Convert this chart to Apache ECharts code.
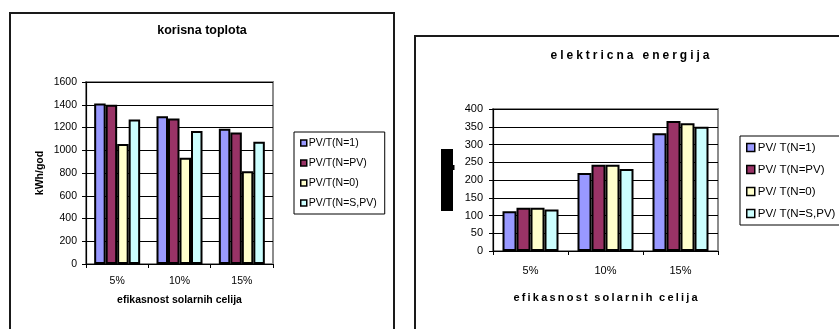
<!DOCTYPE html>
<html>
<head>
<meta charset="utf-8">
<script src="https://cdn.jsdelivr.net/npm/echarts@6/dist/echarts.min.js"></script>
<style>
  html, body { margin: 0; padding: 0; background: #fff; }
  #chart { width: 839px; height: 329px; }
</style>
</head>
<body>
<div id="chart"></div>
<script>
// Categories: solar cell efficiency
const categories = ['5%', '10%', '15%'];

// Useful heat (kWh/god) per PV/T configuration
const heatNames = ['PV/T(N=1)', 'PV/T(N=PV)', 'PV/T(N=0)', 'PV/T(N=S,PV)'];
const heatN1   = [1410, 1300, 1190];
const heatNPV  = [1400, 1280, 1155];
const heatN0   = [1055, 935, 815];
const heatNSPV = [1270, 1170, 1075];

// Electric energy per PV/T configuration
const elecNames = ['PV/ T(N=1)', 'PV/ T(N=PV)', 'PV/ T(N=0)', 'PV/ T(N=S,PV)'];
const elecN1   = [112, 220, 332];
const elecNPV  = [122, 243, 366];
const elecN0   = [122, 243, 360];
const elecNSPV = [117, 231, 350];

// Axis ticks
const heatTicks = { min: 0, max: 1600, interval: 200 };
const elecTicks = { min: 0, max: 400, interval: 50 };

const palette = ['#9999FF', '#993366', '#FFFFCC', '#CCFFFF'];
const FONT = '"Liberation Sans", Arial, sans-serif';

// letter-spaced caption text
function spaced(s, gap) {
  return s.split(' ').map(w => w.split('').join(gap)).join(gap + gap + gap);
}

const chart = echarts.init(document.getElementById('chart'), null, { renderer: 'canvas' });

function barSeries(name, data, idx, gridIdx, width) {
  return {
    type: 'bar',
    name: name,
    data: data,
    xAxisIndex: gridIdx,
    yAxisIndex: gridIdx,
    barWidth: width,
    barGap: '0%',
    itemStyle: { color: palette[idx], borderColor: '#000', borderWidth: 2 },
    emphasis: { disabled: true },
    animation: false
  };
}

const plain = v => String(v);

const option = {
  animation: false,
  backgroundColor: '#fff',
  textStyle: { fontFamily: FONT },
  grid: [
    { left: 86, top: 82, width: 187, height: 182, show: true, borderColor: '#8c8c8c', borderWidth: 2, backgroundColor: 'transparent' },
    { left: 493, top: 109, width: 225, height: 142, show: true, borderColor: '#8c8c8c', borderWidth: 2, backgroundColor: 'transparent' }
  ],
  xAxis: [
    {
      type: 'category', gridIndex: 0, data: categories,
      axisLine: { lineStyle: { color: '#000', width: 1.2 } },
      axisTick: { show: true, length: 4, lineStyle: { color: '#000' } },
      axisLabel: { color: '#000', fontSize: 10.5, margin: 12, fontFamily: FONT },
      name: 'efikasnost solarnih celija', nameLocation: 'middle', nameGap: 31,
      nameTextStyle: { color: '#000', fontSize: 10.5, fontWeight: 'bold', fontFamily: FONT }
    },
    {
      type: 'category', gridIndex: 1, data: categories,
      axisLine: { lineStyle: { color: '#000', width: 1.2 } },
      axisTick: { show: true, length: 4, lineStyle: { color: '#000' } },
      axisLabel: { color: '#000', fontSize: 11, margin: 14, fontFamily: FONT },
      name: spaced('efikasnost solarnih celija', '\u2009'), nameLocation: 'middle', nameGap: 41,
      nameTextStyle: { color: '#000', fontSize: 11, fontWeight: 'bold', fontFamily: FONT }
    }
  ],
  yAxis: [
    {
      type: 'value', gridIndex: 0, min: heatTicks.min, max: heatTicks.max, interval: heatTicks.interval,
      axisLine: { show: true, lineStyle: { color: '#000', width: 1.2 } },
      axisTick: { show: true, length: 4, lineStyle: { color: '#000' } },
      axisLabel: { color: '#000', fontSize: 10.5, margin: 9, fontFamily: FONT, formatter: plain },
      splitLine: { show: true, lineStyle: { color: '#000', width: 1 } },
      name: 'kWh/god', nameLocation: 'middle', nameGap: 40, nameRotate: 90,
      nameTextStyle: { color: '#000', fontSize: 10.5, fontWeight: 'bold', fontFamily: FONT }
    },
    {
      type: 'value', gridIndex: 1, min: elecTicks.min, max: elecTicks.max, interval: elecTicks.interval,
      axisLine: { show: true, lineStyle: { color: '#000', width: 1.2 } },
      axisTick: { show: true, length: 4, lineStyle: { color: '#000' } },
      axisLabel: { color: '#000', fontSize: 11, margin: 10, fontFamily: FONT, formatter: plain },
      splitLine: { show: true, lineStyle: { color: '#000', width: 1 } }
    }
  ],
  legend: [
    {
      data: heatNames, orient: 'vertical', left: 294, top: 132,
      icon: 'rect', itemWidth: 6, itemHeight: 6, itemGap: 8,
      padding: [5, 8, 5, 6],
      backgroundColor: '#fff', borderColor: '#000', borderWidth: 1,
      itemStyle: { borderColor: '#000', borderWidth: 1.5 },
      textStyle: { color: '#000', fontSize: 10.5, lineHeight: 12, fontFamily: FONT, padding: [0, 0, 0, -3] },
      selectedMode: false
    },
    {
      data: elecNames, orient: 'vertical', left: 740, top: 136,
      icon: 'rect', itemWidth: 8, itemHeight: 8, itemGap: 9,
      padding: [5, 8, 5, 6],
      backgroundColor: '#fff', borderColor: '#000', borderWidth: 1,
      itemStyle: { borderColor: '#000', borderWidth: 1.5 },
      textStyle: { color: '#000', fontSize: 11.5, lineHeight: 13, fontFamily: FONT, padding: [0, 0, 0, -2] },
      selectedMode: false
    }
  ],
  graphic: [
    // chart frames
    { type: 'rect', shape: { x: 10, y: 13, width: 384, height: 340 }, style: { fill: 'none', stroke: '#1a1a1a', lineWidth: 2 }, silent: true },
    { type: 'rect', shape: { x: 415, y: 36, width: 440, height: 320 }, style: { fill: 'none', stroke: '#1a1a1a', lineWidth: 2 }, silent: true },
    // chart titles
    { type: 'text', x: 202, y: 31, style: { text: 'korisna toplota', fill: '#000', font: 'bold 12.5px ' + FONT, textAlign: 'center', textVerticalAlign: 'middle' }, silent: true },
    { type: 'text', x: 630, y: 56, style: { text: spaced('elektricna energija', '\u2005'), fill: '#000', font: 'bold 12px ' + FONT, textAlign: 'center', textVerticalAlign: 'middle' }, silent: true },
    // blacked-out axis caption on the second chart
    { type: 'rect', shape: { x: 441, y: 149, width: 12, height: 62 }, style: { fill: '#000' }, silent: true },
    { type: 'rect', shape: { x: 453, y: 165, width: 1.5, height: 5 }, style: { fill: '#000' }, silent: true }
  ],
  series: [
    barSeries(heatNames[0], heatN1, 0, 0, 11.5),
    barSeries(heatNames[1], heatNPV, 1, 0, 11.5),
    barSeries(heatNames[2], heatN0, 2, 0, 11.5),
    barSeries(heatNames[3], heatNSPV, 3, 0, 11.5),
    barSeries(elecNames[0], elecN1, 0, 1, 14),
    barSeries(elecNames[1], elecNPV, 1, 1, 14),
    barSeries(elecNames[2], elecN0, 2, 1, 14),
    barSeries(elecNames[3], elecNSPV, 3, 1, 14)
  ]
};

chart.setOption(option);
</script>
</body>
</html>
